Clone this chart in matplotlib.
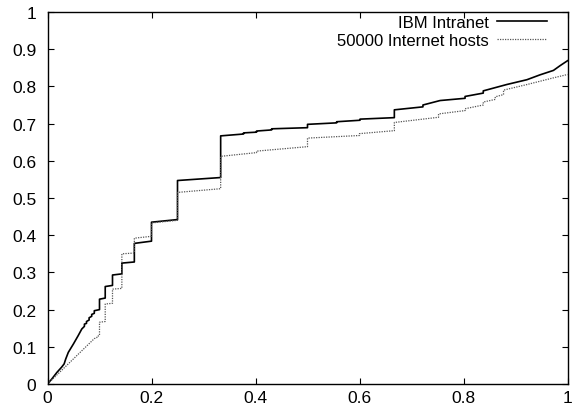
import matplotlib
matplotlib.use("Agg")
import matplotlib.pyplot as plt
import numpy as np

# IBM Intranet curve (vertical jumps are repeated x values)
ibm_x = [0, 0.008, 0.018, 0.027, 0.032, 0.035, 0.040, 0.050, 0.059, 0.066,
         0.071, 0.071, 0.075, 0.075, 0.080, 0.080, 0.085, 0.085, 0.090, 0.090,
         0.100, 0.100, 0.111, 0.111, 0.125, 0.125, 0.143, 0.143, 0.167, 0.167,
         0.200, 0.200, 0.250, 0.250, 0.333, 0.333, 0.377, 0.377, 0.402, 0.402,
         0.431, 0.431, 0.500, 0.500, 0.556, 0.556, 0.601, 0.601, 0.667, 0.667,
         0.722, 0.722, 0.755, 0.803, 0.803, 0.838, 0.838, 0.883, 0.922, 0.947,
         0.973, 0.986, 1.0]
ibm_y = [0, 0.013, 0.031, 0.045, 0.054, 0.067, 0.085, 0.108, 0.130, 0.148,
         0.155, 0.161, 0.163, 0.168, 0.172, 0.178, 0.182, 0.187, 0.190, 0.197,
         0.200, 0.228, 0.231, 0.262, 0.265, 0.293, 0.296, 0.325, 0.328, 0.378,
         0.384, 0.435, 0.442, 0.547, 0.555, 0.667, 0.672, 0.675, 0.677, 0.680,
         0.683, 0.686, 0.689, 0.698, 0.702, 0.705, 0.709, 0.712, 0.716, 0.737,
         0.745, 0.750, 0.762, 0.768, 0.773, 0.782, 0.788, 0.805, 0.818, 0.831,
         0.843, 0.856, 0.869]

# 50000 Internet hosts curve
net_x = [0, 0.034, 0.090, 0.095, 0.095, 0.100, 0.100, 0.111, 0.111, 0.125,
         0.125, 0.143, 0.143, 0.167, 0.167, 0.200, 0.200, 0.250, 0.250, 0.333,
         0.333, 0.402, 0.402, 0.500, 0.500, 0.600, 0.600, 0.667, 0.667, 0.752,
         0.752, 0.803, 0.803, 0.838, 0.838, 0.861, 0.861, 0.877, 0.877, 0.922,
         0.973, 1.0]
net_y = [0, 0.046, 0.122, 0.125, 0.128, 0.130, 0.166, 0.168, 0.215, 0.217,
         0.255, 0.257, 0.350, 0.352, 0.392, 0.397, 0.433, 0.440, 0.515, 0.525,
         0.612, 0.622, 0.626, 0.638, 0.661, 0.668, 0.673, 0.681, 0.703, 0.717,
         0.726, 0.735, 0.740, 0.750, 0.758, 0.765, 0.772, 0.778, 0.790, 0.805,
         0.823, 0.832]

ticks_x = [0, 0.2, 0.4, 0.6, 0.8, 1]
ticks_y = [0, 0.1, 0.2, 0.3, 0.4, 0.5, 0.6, 0.7, 0.8, 0.9, 1]

plt.rcParams['font.family'] = ['Liberation Sans', 'DejaVu Sans']
plt.rcParams['font.size'] = 12

fig = plt.figure(figsize=(5.74, 4.10), dpi=100)
ax = fig.add_axes([47.5 / 574, 25 / 410, 520 / 574, 372 / 410])

ax.plot(ibm_x, ibm_y, color='black', linewidth=1.2, label="IBM Intranet")
ax.plot(net_x, net_y, color='#555555', linewidth=0.9, linestyle=(0, (1, 1)),
        label="50000 Internet hosts")

ax.set_xlim(0, 1)
ax.set_ylim(0, 1)
ax.set_xticks(ticks_x)
ax.set_xticklabels([f"{t:g}" for t in ticks_x])
ax.set_yticks(ticks_y)
ax.set_yticklabels([f"{t:g}" for t in ticks_y])
ax.tick_params(direction='in', top=True, right=True, length=4, width=0.8,
               labelsize=12.5)
ax.tick_params(axis='x', pad=4)
ax.tick_params(axis='y', pad=8)
for s in ax.spines.values():
    s.set_linewidth(1.0)

ax.legend(loc='upper right', bbox_to_anchor=(0.961, 0.993), frameon=False,
          markerfirst=False, borderpad=0, borderaxespad=0, handlelength=3.0,
          handletextpad=0.5, labelspacing=0.2, fontsize=12)

fig.savefig("out.png", dpi=100)
